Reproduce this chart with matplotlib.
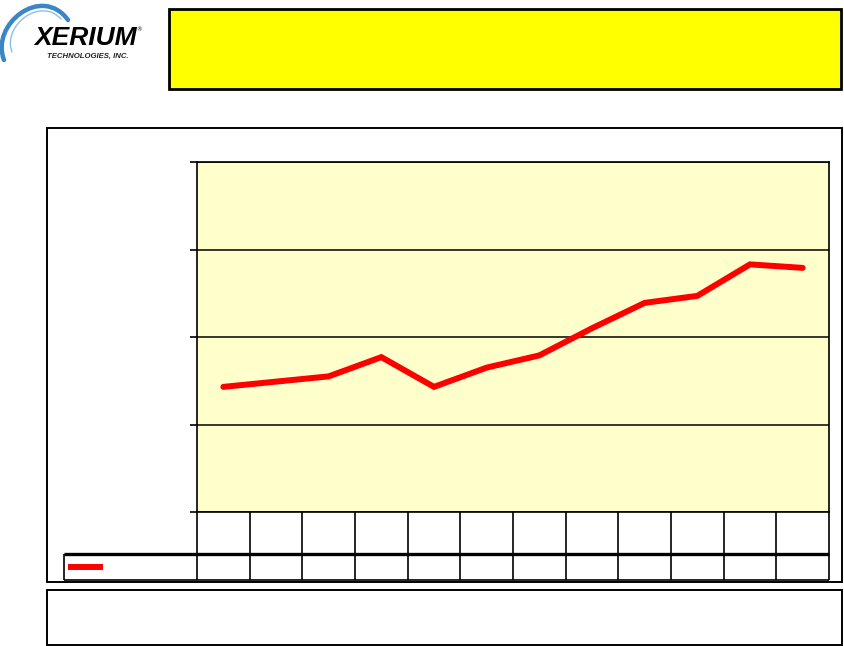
import matplotlib
matplotlib.use("Agg")
import matplotlib.pyplot as plt
from matplotlib.patches import Rectangle, PathPatch
from matplotlib.path import Path
from matplotlib.lines import Line2D

# ---- data (axis has no visible labels) ----
periods = ["P1", "P2", "P3", "P4", "P5", "P6", "P7", "P8", "P9", "P10", "P11", "P12"]
values = [14.3, 14.9, 15.5, 17.7, 14.3, 16.5, 17.9, 21.0, 23.9, 24.7, 28.3, 27.9]
y_ticks = [0, 10, 20, 30, 40]

W, H = 844, 646
fig = plt.figure(figsize=(W / 100, H / 100), dpi=100)
fig.patch.set_facecolor("white")


def fx(px):
    return px / W


def fy(py):
    return 1 - py / H


def rect(x0, y0, x1, y1, fc="none", lw=1.5, z=1):
    fig.patches.append(Rectangle((fx(x0), fy(y1)), fx(x1) - fx(x0), fy(y0) - fy(y1),
                                 transform=fig.transFigure, facecolor=fc,
                                 edgecolor="black", linewidth=lw, zorder=z))


def hline(x0, x1, y, lw=1.2, color="black"):
    fig.lines.append(Line2D([fx(x0), fx(x1)], [fy(y), fy(y)], transform=fig.transFigure,
                            color=color, linewidth=lw, solid_capstyle="butt"))


def vline(x, y0, y1, lw=1.2):
    fig.lines.append(Line2D([fx(x), fx(x)], [fy(y0), fy(y1)], transform=fig.transFigure,
                            color="black", linewidth=lw, solid_capstyle="butt"))


def curve(pts, color, lw):
    verts = [(fx(a), fy(b)) for a, b in pts]
    p = Path(verts, [Path.MOVETO, Path.CURVE4, Path.CURVE4, Path.CURVE4])
    fig.patches.append(PathPatch(p, transform=fig.transFigure, facecolor="none",
                                 edgecolor=color, linewidth=lw, capstyle="round"))


# ---- logo ----
curve([(4, 60), (-10, 24), (42, -16), (68, 20)], "#3a86c8", 3.2)
curve([(12, 52), (2, 26), (40, -4), (61, 19)], "#8ec0e6", 1.0)
fig.text(fx(34), fy(38), "XERIUM", fontsize=19, fontweight="heavy", fontstyle="italic",
         family="Liberation Sans", color="black", va="center", ha="left")
fig.text(fx(136), fy(30), "®", fontsize=4, color="black", va="center", ha="left")
fig.text(fx(47), fy(56), "TECHNOLOGIES, INC.", fontsize=5.6, fontweight="bold",
         fontstyle="italic", family="Liberation Sans", color="#222222", va="center", ha="left")

# ---- yellow title box ----
rect(169, 9, 841, 89, fc="#FFFF00", lw=2.0)

# ---- outer chart box and bottom box ----
rect(47, 128, 842, 582, lw=1.4)
rect(47, 590, 842, 645, lw=1.4)

# ---- plot area ----
x0, x1, ytop, ybot = 197, 829, 162, 512
ax = fig.add_axes([fx(x0), fy(ybot), fx(x1) - fx(x0), fy(ytop) - fy(ybot)])
ax.set_facecolor("#FFFFCC")
ax.set_xlim(0, len(periods))
ax.set_ylim(y_ticks[0], y_ticks[-1])
ax.set_yticks(y_ticks)
ax.set_yticklabels([])
ax.set_xticks([])
ax.tick_params(axis="y", length=5, width=1.2, direction="out", color="black")
ax.yaxis.grid(True, color="black", linewidth=1.1)
ax.set_axisbelow(True)
for s in ["left", "right", "top", "bottom"]:
    ax.spines[s].set_linewidth(1.2)
    ax.spines[s].set_color("black")
xs = [i + 0.5 for i in range(len(periods))]
ax.plot(xs, values, color="#FF0000", linewidth=4.3, solid_capstyle="round",
        solid_joinstyle="miter", zorder=3)

# ---- data table ----
tab_left, row1_bot, row2_bot = 64, 554, 580
ncol = len(periods)
colw = (x1 - x0) / ncol
for i in range(ncol + 1):
    vline(x0 + i * colw, ybot, row2_bot)
hline(tab_left, x1, row1_bot, lw=2.4)
hline(tab_left, x1, row2_bot, lw=1.2)
vline(tab_left, row1_bot, row2_bot)
# legend key
hline(68, 103, 567, lw=4.3, color="#FF0000")

fig.savefig("out.png", dpi=100, facecolor="white")
